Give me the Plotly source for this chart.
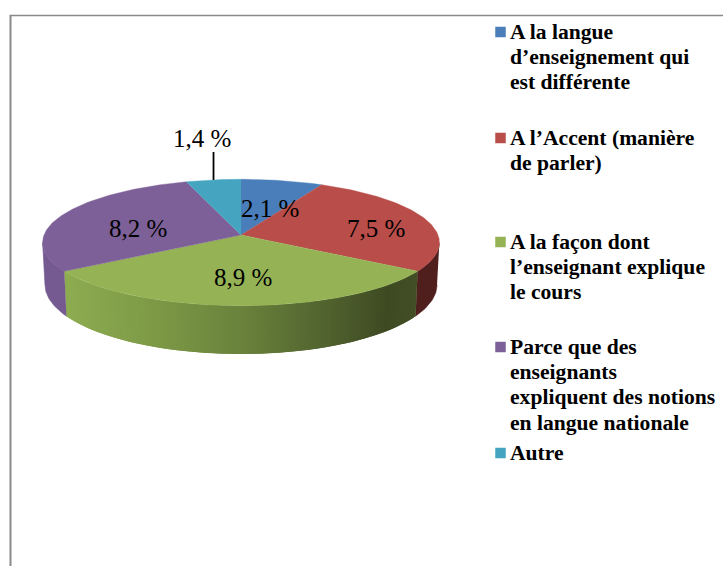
import math
import plotly.graph_objects as go

# ---- data ----
categories = [
    "A la langue d’enseignement qui est différente",
    "A l’Accent (manière de parler)",
    "A la façon dont l’enseignant explique le cours",
    "Parce que des enseignants expliquent des notions en langue nationale",
    "Autre",
]
values = [2.1, 7.5, 8.9, 8.2, 1.4]
legend_lines = [
    ["A la langue", "d’enseignement qui", "est différente"],
    ["A l’Accent (manière", "de parler)"],
    ["A la façon dont", "l’enseignant explique", "le cours"],
    ["Parce que des", "enseignants", "expliquent des notions", "en langue nationale"],
    ["Autre"],
]
top_colors = ["#4A7EBB", "#B94D4A", "#95B355", "#7D6098", "#45A5C0"]
side_colors = ["#3A6390", "#4F1F1E", None, "#745A90", "#35808F"]

# ---- layout (pixel-based plot area) ----
W, H = 723, 566
CX, CY, A, B, P = 241.0, 235.0, 197.0, 62.3, 0.1186
DEPTH, BOT_SX, BOT_SY = 41.5, 0.988, 1.096
label_pos = [(270, 208), (376, 228), (243, 277), (138, 228), (202, 138)]
legend_y0 = [32, 138, 242, 347, 453]
LINE_H = 25.2
LEG_SWATCH_X, LEG_TEXT_X = 500.5, 508
LABEL_SIZE, LEGEND_SIZE = 25, 21.6
SERIF = "Liberation Serif, Times New Roman, serif"


def top(theta, r=1.0):
    t = math.radians(theta)
    u, v = r * math.sin(t), r * math.cos(t)
    s = 1 + P * v
    return CX + A * u / s, CY - B * v / s


def bottom(theta):
    x, y = top(theta)
    return CX + (x - CX) * BOT_SX, CY + DEPTH + (y - CY) * BOT_SY


def arc(a, b, step=1.0):
    n = max(2, int(abs(b - a) / step) + 1)
    return [a + (b - a) * i / (n - 1) for i in range(n)]


def green_gradient(x):
    stops = [(0.0, (141, 172, 80)), (0.25, (125, 153, 70)), (0.5, (106, 130, 60)),
             (0.75, (80, 98, 46)), (0.92, (62, 74, 34)), (1.0, (66, 79, 37))]
    t = min(1, max(0, (x - 67) / (416 - 67)))
    for (t0, c0), (t1, c1) in zip(stops, stops[1:]):
        if t <= t1:
            f = (t - t0) / (t1 - t0)
            return "rgb(%d,%d,%d)" % tuple(round(a + (b - a) * f) for a, b in zip(c0, c1))
    return "rgb(66,79,37)"


def poly(xs, ys, color, width=0.6):
    return go.Scatter(x=xs, y=ys, mode="lines", fill="toself", fillcolor=color,
                      line=dict(color=color, width=width), hoverinfo="skip", showlegend=False)


total = sum(values)
edges = [0.0]
for v in values:
    edges.append(edges[-1] + v / total * 360)

fig = go.Figure()

# side wall: only the part between the two tangent points is visible
tan_a = math.degrees(math.acos(-P))
tan_b = 360 - tan_a
for i in range(len(values)):
    a, b = max(edges[i], tan_a), min(edges[i + 1], tan_b)
    if b <= a:
        continue
    if side_colors[i] is None:
        th = arc(a, b, 1.0)
        for k in range(len(th) - 1):
            t1, t2 = th[k], th[min(k + 2, len(th) - 1)]  # overlap with next strip to hide seams
            p = [top(t1), top(t2), bottom(t2), bottom(t1)]
            fig.add_trace(poly([q[0] for q in p], [q[1] for q in p],
                               green_gradient((top(th[k])[0] + top(th[k + 1])[0]) / 2), width=0))
    else:
        th = arc(a, b)
        p = [top(t) for t in th] + [bottom(t) for t in reversed(th)]
        fig.add_trace(poly([q[0] for q in p], [q[1] for q in p], side_colors[i]))

# top face
for i in range(len(values)):
    p = [(CX, CY)] + [top(t) for t in arc(edges[i], edges[i + 1])]
    fig.add_trace(go.Scatter(x=[q[0] for q in p], y=[q[1] for q in p], mode="lines",
                             fill="toself", fillcolor=top_colors[i],
                             line=dict(color=top_colors[i], width=0.4),
                             name=categories[i], text=f"{values[i]}", hoverinfo="name+text",
                             showlegend=False))

# leader line of the last slice
mid = (edges[4] + edges[5]) / 2
lx, ly = top(mid)
fig.add_trace(go.Scatter(x=[lx, lx], y=[ly, 152], mode="lines",
                         line=dict(color="black", width=1.8), hoverinfo="skip", showlegend=False))

annotations = []
for v, (x, y) in zip(values, label_pos):
    annotations.append(dict(x=x, y=y, xref="x", yref="y", showarrow=False,
                            text=f"{v:.1f} %".replace(".", ","), xanchor="center", yanchor="middle",
                            font=dict(family=SERIF, size=LABEL_SIZE, color="black")))

# legend
for i, lines in enumerate(legend_lines):
    fig.add_trace(go.Scatter(x=[LEG_SWATCH_X], y=[legend_y0[i]], mode="markers",
                             marker=dict(symbol="square", size=10.5, color=top_colors[i], line=dict(width=0)),
                             hoverinfo="skip", showlegend=False))
    for j, line in enumerate(lines):
        annotations.append(dict(x=LEG_TEXT_X, y=legend_y0[i] + j * LINE_H, xref="x", yref="y",
                                showarrow=False, text=f"<b>{line}</b>", xanchor="left", yanchor="middle",
                                font=dict(family=SERIF, size=LEGEND_SIZE, color="black")))

fig.update_layout(
    width=W, height=H, margin=dict(l=0, r=0, t=0, b=0), autosize=False,
    paper_bgcolor="white", plot_bgcolor="white", showlegend=False,
    xaxis=dict(range=[0, W], visible=False, fixedrange=True),
    yaxis=dict(range=[H, 0], visible=False, fixedrange=True),
    annotations=annotations,
    shapes=[
        dict(type="line", xref="x", yref="y", x0=10.5, x1=10.5, y0=15, y1=H,
             line=dict(color="#8a8a8a", width=2)),
        dict(type="line", xref="x", yref="y", x0=10, x1=W, y0=15.5, y1=15.5,
             line=dict(color="#8a8a8a", width=1.5)),
    ],
)

fig.write_html("out.html", config={"displayModeBar": False},
               post_script="document.body.style.margin='0';document.body.style.overflow='hidden';")
